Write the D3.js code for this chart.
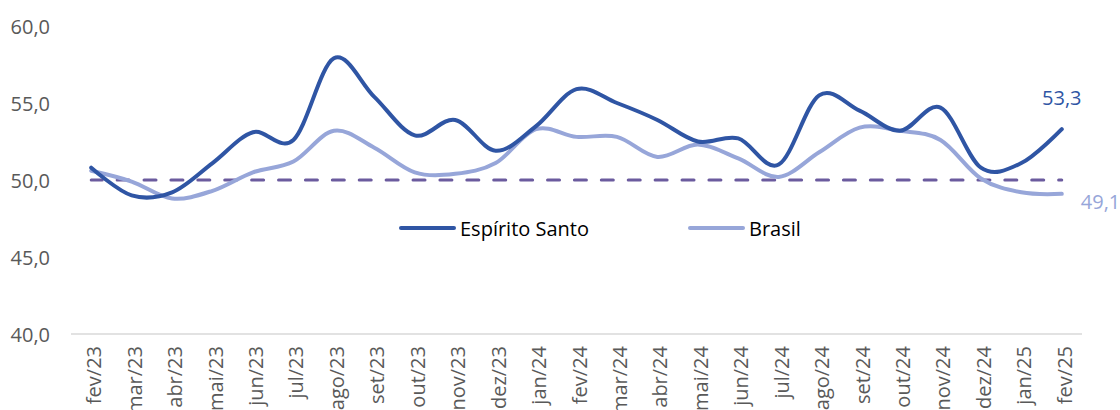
<!DOCTYPE html>
<html>
<head>
<meta charset="utf-8">
<script src="https://cdn.jsdelivr.net/npm/d3@7"></script>
<style>
  html, body { margin: 0; padding: 0; background: #ffffff; }
  svg { display: block; font-family: "Open Sans", "Noto Sans", sans-serif; }
</style>
</head>
<body>
<svg id="chart" width="1120" height="410"></svg>
<script>
// Monthly index, Espírito Santo vs Brasil
const months = ["fev/23","mar/23","abr/23","mai/23","jun/23","jul/23","ago/23","set/23","out/23","nov/23","dez/23",
  "jan/24","fev/24","mar/24","abr/24","mai/24","jun/24","jul/24","ago/24","set/24","out/24","nov/24","dez/24",
  "jan/25","fev/25"];
const espiritoSanto = [50.8, 49.0, 49.2, 51.1, 53.1, 52.6, 57.9, 55.4, 52.9, 53.9, 51.9,
  53.5, 55.9, 55.0, 53.9, 52.5, 52.7, 51.0, 55.5, 54.5, 53.2, 54.7, 50.8, 51.1, 53.3];
const brasil = [50.6, 49.9, 48.8, 49.3, 50.5, 51.2, 53.2, 52.1, 50.5, 50.4, 51.1,
  53.3, 52.8, 52.8, 51.5, 52.3, 51.4, 50.2, 51.8, 53.4, 53.2, 52.6, 50.1, 49.2, 49.1];
const threshold = 50;
const yTicks = [40, 45, 50, 55, 60];
const seriesNames = ["Espírito Santo", "Brasil"];

const colDark = "#2F55A4";
const colLight = "#97A6D9";
const colRef = "#6B5B9E";
const colAxisText = "#595959";

const svg = d3.select("#chart");

const x = d3.scalePoint().domain(months).range([71, 1082]).padding(0.5);
const y = d3.scaleLinear().domain([40, 60]).range([334, 26]);

// y tick labels
svg.append("g").selectAll("text").data(yTicks).join("text")
  .attr("x", 50).attr("y", d => y(d))
  .attr("text-anchor", "end").attr("dominant-baseline", "central")
  .attr("fill", colAxisText).attr("font-size", 20)
  .text(d => d3.format(".1f")(d).replace(".", ","));

// baseline axis
svg.append("line")
  .attr("x1", 71).attr("x2", 1082)
  .attr("y1", y(40)).attr("y2", y(40))
  .attr("stroke", "#D9D9D9").attr("stroke-width", 1.5);

// x tick labels, rotated
svg.append("g").selectAll("text").data(months).join("text")
  .attr("transform", d => `translate(${x(d) + 10},346) rotate(-90)`)
  .attr("text-anchor", "end")
  .attr("fill", colAxisText).attr("font-size", 20)
  .text(d => d);

// reference line at 50
svg.append("line")
  .attr("x1", x(months[0])).attr("x2", x(months[months.length - 1]))
  .attr("y1", y(threshold)).attr("y2", y(threshold))
  .attr("stroke", colRef).attr("stroke-width", 3)
  .attr("stroke-linecap", "round")
  .attr("stroke-dasharray", "12,14.9")
  .attr("stroke-dashoffset", 1);

const line = d3.line()
  .x((d, i) => x(months[i]))
  .y(d => y(d))
  .curve(d3.curveCatmullRom.alpha(0));

svg.append("path").datum(brasil)
  .attr("d", line).attr("fill", "none")
  .attr("stroke", colLight).attr("stroke-width", 4)
  .attr("stroke-linecap", "round").attr("stroke-linejoin", "round");

svg.append("path").datum(espiritoSanto)
  .attr("d", line).attr("fill", "none")
  .attr("stroke", colDark).attr("stroke-width", 4)
  .attr("stroke-linecap", "round").attr("stroke-linejoin", "round");

// end-value labels
const last = months.length - 1;
const fmt = v => d3.format(".1f")(v).replace(".", ",");
svg.append("text")
  .attr("x", x(months[last])).attr("y", y(espiritoSanto[last]) - 24)
  .attr("text-anchor", "middle").attr("fill", colDark).attr("font-size", 20)
  .text(fmt(espiritoSanto[last]));
svg.append("text")
  .attr("x", x(months[last]) + 19).attr("y", y(brasil[last]) + 15)
  .attr("text-anchor", "start").attr("fill", colLight).attr("font-size", 20)
  .text(fmt(brasil[last]));

// legend
const legend = [
  { name: seriesNames[0], color: colDark, x0: 401 },
  { name: seriesNames[1], color: colLight, x0: 690 }
];
const lg = svg.append("g").selectAll("g").data(legend).join("g")
  .attr("transform", d => `translate(${d.x0},228)`);
lg.append("line").attr("x1", 0).attr("x2", 53).attr("y1", 0).attr("y2", 0)
  .attr("stroke", d => d.color).attr("stroke-width", 4).attr("stroke-linecap", "round");
lg.append("text").attr("x", 59).attr("y", 0)
  .attr("dominant-baseline", "central")
  .attr("fill", "#000000").attr("font-size", 20)
  .text(d => d.name);
</script>
</body>
</html>
